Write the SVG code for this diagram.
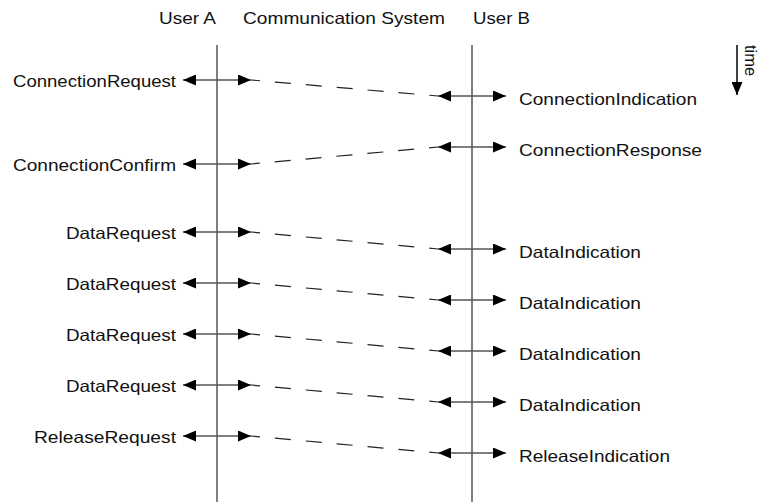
<svg xmlns="http://www.w3.org/2000/svg" width="761" height="502" viewBox="0 0 761 502">
<defs>
<marker id="ah" viewBox="0 0 13 11" refX="13" refY="5.5" markerWidth="13" markerHeight="11" markerUnits="userSpaceOnUse" orient="auto-start-reverse">
<path d="M0,0 L13,5.5 L0,11 z" fill="#000"/>
</marker>
<style>
text{font-family:"Liberation Sans",Arial,sans-serif;font-size:16.5px;fill:#111}
.life{stroke:#555;stroke-width:1.5;fill:none}
.prim{stroke:#555;stroke-width:1.5;fill:none;marker-start:url(#ah);marker-end:url(#ah)}
.msg{stroke:#222;stroke-width:1.2;fill:none;stroke-dasharray:16 15;stroke-dashoffset:7}
.l{text-anchor:end}
</style>
</defs>
<rect width="761" height="502" fill="#fff"/>
<g id="headers">
<text x="159" y="24" textLength="57" lengthAdjust="spacingAndGlyphs">User A</text>
<text x="243" y="24" textLength="202" lengthAdjust="spacingAndGlyphs">Communication System</text>
<text x="473" y="24" textLength="57" lengthAdjust="spacingAndGlyphs">User B</text>
</g>
<g id="lifelines">
<line class="life" x1="217" y1="45" x2="217" y2="502"/>
<line class="life" x1="472" y1="45" x2="472" y2="502"/>
</g>
<g id="time">
<line x1="737" y1="45" x2="737" y2="95" stroke="#000" stroke-width="1.5" marker-end="url(#ah)"/>
<text transform="translate(745,45) rotate(90)">time</text>
</g>
<g id="connectors">
<line class="msg" x1="251" y1="80" x2="438" y2="96"/>
<line class="msg" x1="438" y1="147" x2="251" y2="164"/>
<line class="msg" x1="251" y1="232" x2="438" y2="249"/>
<line class="msg" x1="251" y1="283" x2="438" y2="300"/>
<line class="msg" x1="251" y1="334" x2="438" y2="351"/>
<line class="msg" x1="251" y1="385" x2="438" y2="402"/>
<line class="msg" x1="251" y1="436" x2="438" y2="453"/>
</g>
<g id="userA-primitives">
<g id="connReq"><line class="prim" x1="183" y1="80" x2="251" y2="80"/><text class="l" x="176" y="87" textLength="163" lengthAdjust="spacingAndGlyphs">ConnectionRequest</text></g>
<g id="connConf"><line class="prim" x1="183" y1="164" x2="251" y2="164"/><text class="l" x="176" y="171" textLength="163" lengthAdjust="spacingAndGlyphs">ConnectionConfirm</text></g>
<g id="dataReq1"><line class="prim" x1="183" y1="232" x2="251" y2="232"/><text class="l" x="176" y="239" textLength="110" lengthAdjust="spacingAndGlyphs">DataRequest</text></g>
<g id="dataReq2"><line class="prim" x1="183" y1="283" x2="251" y2="283"/><text class="l" x="176" y="290" textLength="110" lengthAdjust="spacingAndGlyphs">DataRequest</text></g>
<g id="dataReq3"><line class="prim" x1="183" y1="334" x2="251" y2="334"/><text class="l" x="176" y="341" textLength="110" lengthAdjust="spacingAndGlyphs">DataRequest</text></g>
<g id="dataReq4"><line class="prim" x1="183" y1="385" x2="251" y2="385"/><text class="l" x="176" y="392" textLength="110" lengthAdjust="spacingAndGlyphs">DataRequest</text></g>
<g id="relReq"><line class="prim" x1="183" y1="436" x2="251" y2="436"/><text class="l" x="176" y="443" textLength="142" lengthAdjust="spacingAndGlyphs">ReleaseRequest</text></g>
</g>
<g id="userB-primitives">
<g id="connInd"><line class="prim" x1="438" y1="96" x2="506" y2="96"/><text x="519" y="105" textLength="178" lengthAdjust="spacingAndGlyphs">ConnectionIndication</text></g>
<g id="connResp"><line class="prim" x1="438" y1="147" x2="506" y2="147"/><text x="519" y="156" textLength="183" lengthAdjust="spacingAndGlyphs">ConnectionResponse</text></g>
<g id="dataInd1"><line class="prim" x1="438" y1="249" x2="506" y2="249"/><text x="519" y="258" textLength="122" lengthAdjust="spacingAndGlyphs">DataIndication</text></g>
<g id="dataInd2"><line class="prim" x1="438" y1="300" x2="506" y2="300"/><text x="519" y="309" textLength="122" lengthAdjust="spacingAndGlyphs">DataIndication</text></g>
<g id="dataInd3"><line class="prim" x1="438" y1="351" x2="506" y2="351"/><text x="519" y="360" textLength="122" lengthAdjust="spacingAndGlyphs">DataIndication</text></g>
<g id="dataInd4"><line class="prim" x1="438" y1="402" x2="506" y2="402"/><text x="519" y="411" textLength="122" lengthAdjust="spacingAndGlyphs">DataIndication</text></g>
<g id="relInd"><line class="prim" x1="438" y1="453" x2="506" y2="453"/><text x="519" y="462" textLength="151" lengthAdjust="spacingAndGlyphs">ReleaseIndication</text></g>
</g>
</svg>
